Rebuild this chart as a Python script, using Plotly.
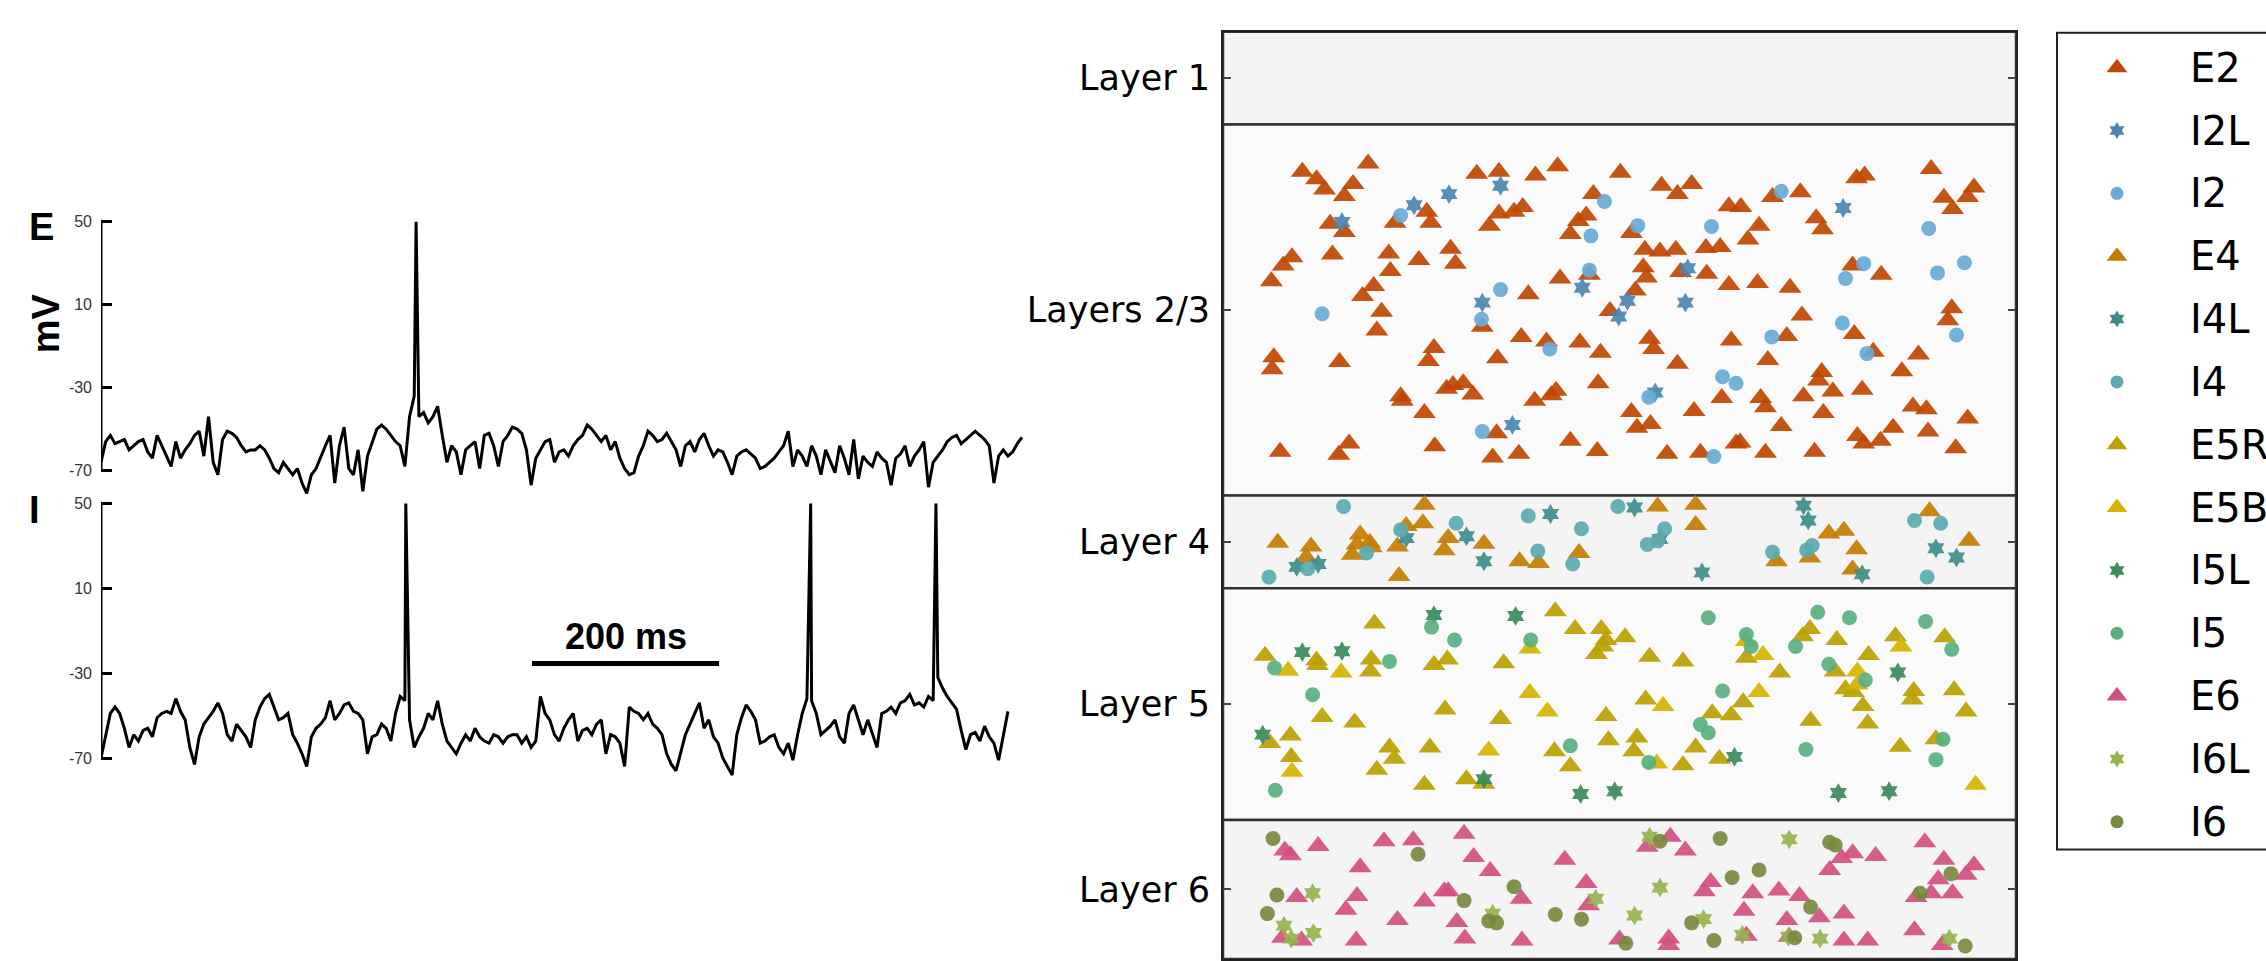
import plotly.graph_objects as go

W, H = 2266, 961

# ---------------- membrane potential traces (mV), sampled every DT ms ----------------
DT = 5
E_v = [-66,-56,-53,-57,-56,-55,-60,-58,-56,-55,
       -61,-64,-53,-58,-63,-68,-56,-64,-60,-57,
       -53,-51,-63,-44,-66,-72,-55,-51,-52,-54,
       -58,-61,-60,-60,-58,-60,-64,-69,-71,-66,
       -69,-72,-69,-76,-81,-72,-69,-63,-58,-53,
       -76,-58,-49,-69,-72,-60,-80,-63,-56,-50,
       -48,-50,-53,-56,-58,-68,-44,-34,-44,-42,
       -47,-44,-39,-53,-66,-58,-61,-72,-60,-58,
       -56,-69,-53,-52,-58,-68,-56,-53,-49,-50,
       -52,-60,-77,-64,-60,-56,-55,-66,-61,-60,
       -63,-58,-55,-53,-48,-50,-53,-56,-53,-60,
       -56,-64,-69,-72,-71,-63,-58,-51,-53,-56,
       -55,-52,-56,-60,-68,-58,-56,-61,-55,-52,
       -58,-63,-60,-61,-66,-72,-63,-61,-60,-62,
       -64,-69,-68,-66,-64,-61,-58,-51,-68,-60,
       -63,-68,-58,-63,-72,-60,-66,-71,-58,-64,
       -72,-55,-74,-63,-66,-68,-61,-64,-66,-77,
       -64,-62,-58,-68,-63,-60,-56,-78,-66,-63,
       -60,-56,-54,-53,-57,-55,-53,-51,-53,-55,
       -58,-76,-63,-60,-63,-61,-57,-54]
E_spike_t = [337]
E_spike_peak = [50]

I_v = [-70,-59,-49,-46,-49,-56,-65,-59,-62,-57,
       -56,-60,-51,-49,-48,-49,-42,-48,-52,-65,
       -73,-60,-54,-51,-48,-44,-49,-59,-62,-54,
       -57,-60,-65,-52,-46,-42,-40,-46,-52,-51,
       -49,-59,-63,-68,-74,-60,-56,-54,-51,-43,
       -52,-49,-45,-44,-48,-49,-52,-68,-60,-59,
       -54,-56,-62,-49,-41,-43,-52,-65,-60,-56,
       -49,-52,-43,-54,-62,-65,-68,-63,-59,-62,
       -56,-60,-62,-63,-59,-60,-63,-60,-59,-59,
       -63,-60,-65,-62,-41,-49,-52,-59,-62,-56,
       -52,-49,-62,-57,-56,-59,-54,-52,-68,-59,
       -60,-63,-74,-46,-48,-49,-52,-49,-54,-56,
       -59,-68,-73,-76,-68,-59,-54,-49,-44,-56,
       -52,-60,-63,-70,-74,-78,-59,-51,-45,-48,
       -52,-63,-62,-60,-59,-65,-68,-63,-71,-59,
       -49,-42,-43,-49,-59,-57,-55,-52,-60,-63,
       -49,-45,-52,-59,-52,-59,-65,-49,-48,-46,
       -49,-44,-43,-40,-45,-44,-46,-41,-43,-32,
       -37,-41,-44,-47,-57,-66,-59,-58,-62,-55,
       -60,-63,-71,-60,-48]
I_spike_t = [326, 759, 893]
I_spike_peak = [50, 50, 50]

V_TICKS = [50, 10, -30, -70]
SCALE_T0, SCALE_LEN, SCALE_V = 461, 200, -25.5

# ---------------- cortical layers (normalized depth) ----------------
LAYER_BOUNDS = [0.0, 0.1, 0.5, 0.6, 0.85, 1.0]
LAYER_NAMES = ["Layer 1", "Layers 2/3", "Layer 4", "Layer 5", "Layer 6"]
LAYER_FILLS = ["#f4f4f4", "#fafafa", "#f4f4f4", "#fafafa", "#f4f4f4"]

# ---------------- cell positions (x normalized, y normalized depth) ----------------
E2 = [(0.100,0.151),(0.118,0.159),(0.128,0.170),(0.164,0.164),(0.153,0.177),(0.183,0.142),
      (0.135,0.207),(0.153,0.216),(0.217,0.206),(0.257,0.194),(0.262,0.206),(0.320,0.153),
      (0.348,0.151),(0.394,0.155),(0.422,0.145),(0.467,0.175),(0.458,0.198),(0.448,0.204),
      (0.438,0.218),(0.336,0.209),(0.348,0.196),(0.367,0.194),(0.378,0.189),(0.087,0.243),
      (0.076,0.252),(0.061,0.269),(0.138,0.240),(0.209,0.239),(0.211,0.258),(0.247,0.246),
      (0.287,0.234),(0.293,0.250),(0.190,0.274),(0.176,0.285),(0.200,0.302),(0.194,0.322),
      (0.425,0.266),(0.462,0.262),(0.385,0.283),(0.488,0.301),(0.327,0.318),(0.376,0.329),
      (0.408,0.334),(0.450,0.335),(0.476,0.346),(0.346,0.352),(0.266,0.341),(0.259,0.355),
      (0.064,0.351),(0.062,0.364),(0.147,0.356),(0.224,0.393),(0.226,0.398),(0.254,0.411),
      (0.282,0.385),(0.290,0.381),(0.303,0.379),(0.315,0.391),(0.393,0.398),(0.414,0.392),
      (0.420,0.387),(0.473,0.379),(0.345,0.433),(0.438,0.441),(0.472,0.452),(0.340,0.459),
      (0.373,0.455),(0.267,0.447),(0.159,0.444),(0.146,0.456),(0.072,0.453),
      (0.501,0.152),(0.553,0.166),(0.573,0.175),(0.591,0.164),(0.638,0.188),(0.653,0.189),
      (0.693,0.178),(0.728,0.173),(0.799,0.158),(0.809,0.155),(0.893,0.148),(0.909,0.179),
      (0.920,0.191),(0.939,0.178),(0.947,0.168),(0.748,0.201),(0.756,0.213),(0.676,0.209),
      (0.662,0.224),(0.515,0.217),(0.532,0.235),(0.551,0.237),(0.571,0.235),(0.609,0.233),
      (0.627,0.232),(0.530,0.254),(0.534,0.265),(0.577,0.259),(0.610,0.261),(0.520,0.279),
      (0.638,0.273),(0.674,0.271),(0.715,0.276),(0.794,0.252),(0.830,0.262),(0.730,0.306),
      (0.919,0.298),(0.914,0.311),(0.538,0.331),(0.543,0.342),(0.641,0.333),(0.711,0.328),
      (0.796,0.326),(0.820,0.345),(0.573,0.358),(0.687,0.354),(0.877,0.348),(0.856,0.366),
      (0.755,0.367),(0.751,0.376),(0.769,0.388),(0.806,0.386),(0.732,0.393),(0.678,0.395),
      (0.684,0.405),(0.629,0.395),(0.594,0.409),(0.515,0.410),(0.522,0.427),(0.539,0.423),
      (0.757,0.411),(0.704,0.425),(0.870,0.404),(0.887,0.407),(0.939,0.417),(0.845,0.427),
      (0.889,0.431),(0.800,0.436),(0.808,0.444),(0.829,0.441),(0.924,0.449),(0.746,0.453),
      (0.684,0.454),(0.647,0.444),(0.652,0.443),(0.602,0.454),(0.560,0.455)]
I2L = [(0.150,0.205),(0.241,0.187),(0.285,0.175),(0.350,0.166),(0.327,0.292),(0.453,0.276),
       (0.365,0.424),(0.782,0.190),(0.586,0.255),(0.583,0.292),(0.510,0.290),(0.499,0.307),
       (0.545,0.389)]
I2 = [(0.125,0.304),(0.224,0.198),(0.326,0.310),(0.350,0.278),(0.412,0.342),(0.481,0.183),
      (0.464,0.220),(0.462,0.257),(0.327,0.431),(0.523,0.209),(0.616,0.210),(0.704,0.172),
      (0.890,0.212),(0.808,0.250),(0.785,0.266),(0.901,0.260),(0.935,0.249),(0.781,0.314),
      (0.925,0.327),(0.692,0.329),(0.812,0.347),(0.630,0.372),(0.647,0.379),(0.537,0.394),
      (0.619,0.458)]
E4 = [(0.069,0.551),(0.111,0.555),(0.105,0.567),(0.163,0.564),(0.173,0.542),(0.185,0.551),
      (0.169,0.553),(0.187,0.556),(0.220,0.555),(0.231,0.533),(0.252,0.530),(0.254,0.510),
      (0.222,0.587),(0.279,0.559),(0.284,0.546),(0.329,0.552),(0.374,0.571),(0.398,0.573),
      (0.449,0.562),(0.548,0.512),(0.596,0.510),(0.596,0.532),(0.698,0.571),(0.740,0.567),
      (0.764,0.541),(0.783,0.538),(0.799,0.558),(0.794,0.580),(0.891,0.517),(0.941,0.549)]
I4L = [(0.093,0.577),(0.120,0.574),(0.231,0.546),(0.307,0.544),(0.329,0.571),(0.413,0.520),
       (0.519,0.513),(0.551,0.547),(0.604,0.583),(0.732,0.511),(0.738,0.527),(0.806,0.585),
       (0.899,0.557),(0.925,0.567)]
I4 = [(0.058,0.588),(0.107,0.579),(0.152,0.512),(0.181,0.562),(0.224,0.537),(0.294,0.530),
      (0.385,0.522),(0.397,0.560),(0.452,0.536),(0.441,0.574),(0.498,0.512),(0.535,0.553),
      (0.548,0.549),(0.557,0.536),(0.693,0.561),(0.736,0.559),(0.743,0.554),(0.872,0.527),
      (0.905,0.530),(0.888,0.588)]
E5R = [(0.053,0.673),(0.118,0.678),(0.119,0.683),(0.187,0.677),(0.186,0.690),(0.191,0.638),
       (0.266,0.683),(0.283,0.677),(0.354,0.681),(0.419,0.625),(0.444,0.644),(0.477,0.644),
       (0.483,0.656),(0.471,0.671),(0.479,0.663),(0.280,0.731),(0.350,0.741),(0.125,0.739),
       (0.166,0.745),(0.059,0.767),(0.085,0.759),(0.086,0.782),(0.210,0.772),(0.216,0.784),
       (0.194,0.796),(0.261,0.772),(0.254,0.812),(0.307,0.806),(0.329,0.811),(0.418,0.776),
       (0.438,0.792),(0.483,0.738),(0.486,0.764),
       (0.507,0.653),(0.538,0.674),(0.580,0.679),(0.533,0.720),(0.522,0.761),(0.518,0.776),
       (0.580,0.791),(0.596,0.772),(0.617,0.735),(0.641,0.737),(0.656,0.723),(0.626,0.784),
       (0.660,0.675),(0.702,0.691),(0.731,0.652),(0.740,0.644),(0.774,0.656),(0.772,0.690),
       (0.814,0.672),(0.785,0.709),(0.795,0.712),(0.807,0.727),(0.813,0.746),(0.741,0.743),
       (0.848,0.652),(0.871,0.711),(0.869,0.720),(0.910,0.653),(0.922,0.710),(0.937,0.733),
       (0.899,0.763),(0.854,0.771)]
E5B = [(0.082,0.689),(0.149,0.691),(0.387,0.665),(0.387,0.713),(0.409,0.733),(0.087,0.798),
       (0.335,0.775),(0.555,0.727),(0.547,0.789),(0.676,0.712),(0.660,0.657),(0.681,0.672),
       (0.800,0.690),(0.800,0.704),(0.855,0.663),(0.949,0.812)]
I5L = [(0.050,0.758),(0.100,0.669),(0.150,0.668),(0.266,0.629),(0.369,0.630),(0.329,0.806),
       (0.451,0.822),(0.494,0.819),(0.851,0.691),(0.645,0.782),(0.776,0.821),(0.840,0.819)]
I5 = [(0.065,0.686),(0.113,0.715),(0.210,0.679),(0.263,0.642),(0.292,0.656),(0.388,0.656),
      (0.438,0.770),(0.066,0.818),(0.612,0.632),(0.660,0.650),(0.666,0.663),(0.630,0.711),
      (0.602,0.747),(0.612,0.756),(0.537,0.788),(0.722,0.663),(0.750,0.626),(0.790,0.632),
      (0.764,0.682),(0.810,0.699),(0.886,0.636),(0.919,0.666),(0.908,0.763),(0.899,0.785),
      (0.735,0.774)]
E6 = [(0.078,0.883),(0.085,0.888),(0.120,0.878),(0.203,0.873),(0.240,0.872),(0.304,0.865),
      (0.316,0.890),(0.337,0.905),(0.173,0.901),(0.093,0.933),(0.169,0.932),(0.155,0.947),
      (0.220,0.958),(0.254,0.938),(0.279,0.927),(0.284,0.927),(0.295,0.960),(0.305,0.978),
      (0.376,0.935),(0.377,0.980),(0.168,0.980),(0.075,0.977),(0.099,0.980),(0.431,0.893),
      (0.458,0.918),(0.461,0.942),(0.500,0.979),(0.535,0.879),(0.564,0.868),(0.583,0.883),
      (0.562,0.978),(0.562,0.985),(0.615,0.917),(0.607,0.927),(0.668,0.929),(0.657,0.948),
      (0.701,0.926),(0.727,0.932),(0.711,0.958),(0.752,0.955),(0.660,0.975),(0.714,0.976),
      (0.765,0.904),(0.780,0.891),(0.794,0.886),(0.823,0.889),(0.783,0.951),(0.783,0.980),
      (0.813,0.980),(0.885,0.874),(0.909,0.893),(0.902,0.914),(0.937,0.909),(0.947,0.899),
      (0.874,0.933),(0.893,0.929),(0.920,0.929),(0.872,0.969),(0.907,0.985)]
I6L = [(0.113,0.929),(0.077,0.964),(0.114,0.972),(0.086,0.978),(0.340,0.951),(0.470,0.935),
       (0.551,0.923),(0.519,0.953),(0.606,0.957),(0.538,0.868),(0.714,0.871),(0.655,0.974),
       (0.713,0.976),(0.753,0.978),(0.916,0.978)]
I6 = [(0.063,0.870),(0.246,0.887),(0.068,0.931),(0.056,0.951),(0.304,0.937),(0.367,0.922),
      (0.335,0.959),(0.345,0.961),(0.419,0.952),(0.452,0.957),(0.508,0.983),(0.551,0.873),
      (0.627,0.870),(0.642,0.912),(0.676,0.904),(0.591,0.961),(0.619,0.980),(0.721,0.977),
      (0.741,0.944),(0.765,0.874),(0.772,0.877),(0.918,0.908),(0.879,0.929),(0.936,0.986)]

POP_NAMES = ["E2", "I2L", "I2", "E4", "I4L", "I4", "E5R", "E5B", "I5L", "I5", "E6", "I6L", "I6"]
POP_CELLS = [E2, I2L, I2, E4, I4L, I4, E5R, E5B, I5L, I5, E6, I6L, I6]
POP_COLORS = ["#bf4600", "#4a86b0", "#68aad6", "#c47c00", "#3d8c8c", "#5aaab0", "#bca000",
              "#d6b400", "#3a8a5c", "#58b080", "#d24f80", "#96b24e", "#788a3e"]
POP_SYMBOLS = ["triangle-up", "hexagram", "circle", "triangle-up", "hexagram", "circle",
               "triangle-up", "triangle-up", "hexagram", "circle", "triangle-up", "hexagram", "circle"]
SYMBOL_SIZE = {"triangle-up": 20, "hexagram": 15, "circle": 15}
LEGEND_SIZE = {"triangle-up": 18, "hexagram": 13, "circle": 13}


def with_spikes(v, spike_t, spike_peak):
    pts = [(i * DT, val) for i, val in enumerate(v)] + list(zip(spike_t, spike_peak))
    pts.sort()
    return [p[0] for p in pts], [p[1] for p in pts]


fig = go.Figure()

tE, vE = with_spikes(E_v, E_spike_t, E_spike_peak)
tI, vI = with_spikes(I_v, I_spike_t, I_spike_peak)
fig.add_trace(go.Scatter(x=tE, y=vE, mode="lines", line=dict(color="black", width=3),
                         xaxis="x", yaxis="y", hoverinfo="skip"))
fig.add_trace(go.Scatter(x=tI, y=vI, mode="lines", line=dict(color="black", width=3),
                         xaxis="x", yaxis="y2", hoverinfo="skip"))
fig.add_trace(go.Scatter(x=[SCALE_T0, SCALE_T0 + SCALE_LEN], y=[SCALE_V, SCALE_V], mode="lines",
                         line=dict(color="black", width=5), xaxis="x", yaxis="y2", hoverinfo="skip"))

for name, cells, col, sym in zip(POP_NAMES, POP_CELLS, POP_COLORS, POP_SYMBOLS):
    fig.add_trace(go.Scatter(x=[c[0] for c in cells], y=[c[1] for c in cells], mode="markers",
                             marker=dict(symbol=sym, size=SYMBOL_SIZE[sym], color=col, opacity=0.92,
                                         line=dict(width=0)),
                             xaxis="x3", yaxis="y3", name=name, hoverinfo="skip"))

# legend markers (one row per population)
for k, (col, sym) in enumerate(zip(POP_COLORS, POP_SYMBOLS)):
    fig.add_trace(go.Scatter(x=[0.287], y=[k], mode="markers",
                             marker=dict(symbol=sym, size=LEGEND_SIZE[sym], color=col, line=dict(width=0)),
                             xaxis="x4", yaxis="y4", hoverinfo="skip"))

shapes = []
for i, fill in enumerate(LAYER_FILLS):
    shapes.append(dict(type="rect", xref="x3", yref="y3", x0=0, x1=1,
                       y0=LAYER_BOUNDS[i], y1=LAYER_BOUNDS[i + 1], fillcolor=fill,
                       line=dict(color="#333333", width=2.5), layer="below"))
for yref in ["y", "y2"]:
    shapes.append(dict(type="line", xref="x", yref=yref, x0=0, x1=0, y0=V_TICKS[-1], y1=V_TICKS[0],
                       line=dict(color="black", width=3)))
shapes.append(dict(type="rect", xref="paper", yref="paper", x0=2057 / W, x1=1.05,
                   y0=1 - 849 / H, y1=1 - 28 / H, fillcolor="white",
                   line=dict(color="#222222", width=2), layer="below"))

annotations = [
    dict(text="<b>E</b>", xref="paper", yref="paper", x=41 / W, y=1 - 223 / H, showarrow=False,
         xanchor="center", yanchor="middle", font=dict(family="Liberation Sans", size=38, color="black")),
    dict(text="<b>I</b>", xref="paper", yref="paper", x=34 / W, y=1 - 508 / H, showarrow=False,
         xanchor="center", yanchor="middle", font=dict(family="Liberation Sans", size=38, color="black")),
    dict(text="<b>mV</b>", xref="paper", yref="paper", x=46 / W, y=1 - 320 / H, showarrow=False,
         xanchor="center", yanchor="middle", textangle=-90,
         font=dict(family="Liberation Sans", size=38, color="black")),
    dict(text="<b>200 ms</b>", xref="x", yref="y2", x=SCALE_T0 + SCALE_LEN / 2, y=-12.8, showarrow=False,
         xanchor="center", yanchor="middle", font=dict(family="Liberation Sans", size=36, color="black")),
]
for k, name in enumerate(POP_NAMES):
    annotations.append(dict(text=name, xref="x4", yref="y4", x=0.628, y=k, xanchor="left",
                            yanchor="middle", showarrow=False,
                            font=dict(family="DejaVu Sans", size=40, color="black")))

vtick = dict(tickvals=V_TICKS, ticktext=[str(v) for v in V_TICKS], ticks="inside", ticklen=11,
             tickwidth=3, tickcolor="black", showline=False, showgrid=False, zeroline=False,
             tickfont=dict(family="Liberation Sans", size=16, color="#333333"), ticklabelstandoff=8,
             anchor="x")

fig.update_layout(
    width=W, height=H, margin=dict(l=0, r=0, t=0, b=0),
    paper_bgcolor="white", plot_bgcolor="rgba(0,0,0,0)", showlegend=False, hovermode=False,
    xaxis=dict(domain=[101 / W, 1036 / W], range=[0, 1000], visible=False),
    yaxis=dict(domain=[0.4826, 0.7775], range=[-84, 52], **vtick),
    yaxis2=dict(domain=[0.1857, 0.4826], range=[-82, 51.8], **vtick),
    xaxis3=dict(domain=[1223 / W, 2016 / W], range=[0, 1], anchor="y3", showticklabels=False, ticks="",
                showline=True, mirror=True, linecolor="#222222", linewidth=2, showgrid=False, zeroline=False),
    yaxis3=dict(domain=[1 - 959 / H, 1 - 27 / H], range=[1, 0], anchor="x3",
                tickvals=[(LAYER_BOUNDS[i] + LAYER_BOUNDS[i + 1]) / 2 for i in range(5)],
                ticktext=LAYER_NAMES, ticks="inside", ticklen=8, tickcolor="#444444", tickwidth=1.5,
                showline=True, mirror="ticks", linecolor="#222222", linewidth=2, showgrid=False,
                zeroline=False, ticklabelstandoff=4,
                tickfont=dict(family="DejaVu Sans", size=35, color="black")),
    xaxis4=dict(domain=[2057 / W, 1], range=[0, 1], visible=False, anchor="y4"),
    yaxis4=dict(domain=[0, 1], range=[14.215, -0.997], visible=False, anchor="x4"),
    shapes=shapes, annotations=annotations,
)

fig.write_html("out.html")
